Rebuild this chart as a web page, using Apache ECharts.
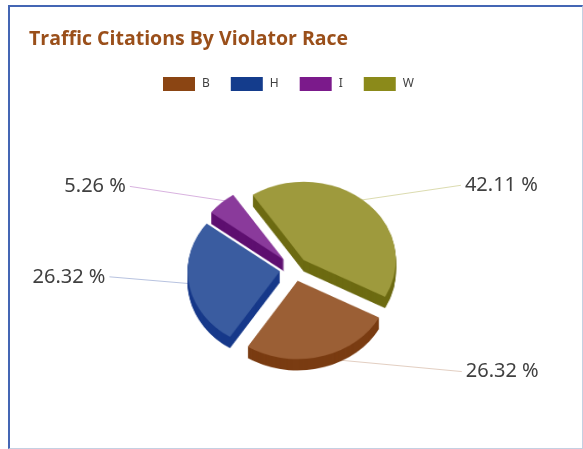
<!DOCTYPE html>
<html><head><meta charset="utf-8">
<script src="https://cdn.jsdelivr.net/npm/echarts@6/dist/echarts.min.js"></script>
<style>
html,body{margin:0;padding:0;background:#fff;overflow:hidden;}
.layer{width:583px;height:449px;position:absolute;left:0;top:0;}
#pie{transform-origin:294px 269px;transform:scale(1.025,0.87);pointer-events:none;}
#frame{position:absolute;left:8px;top:5px;width:572px;height:441px;border-left:2px solid #4466b4;border-top:2px solid #4466b4;border-right:1px solid #c5d0e2;border-bottom:1px solid #c5d0e2;pointer-events:none;}
</style></head><body>
<div id="main" class="layer"></div>
<div id="pie" class="layer"></div>
<div id="frame"></div>
<script>
const categories = ['B', 'H', 'I', 'W'];
const values = [26.32, 26.32, 5.26, 42.11];
const titleText = 'Traffic Citations By Violator Race';

const topColors = ['#9b5f35', '#3a5ca0', '#8a3a9b', '#9e9a3d'];
const sideColors = ['#7a3c12', '#17398a', '#5e0f70', '#6d6b12'];
const legendColors = ['#8b4513', '#143c8c', '#7b1a8b', '#8b8a1a'];
const lineColors = ['#e3cfc2', '#b8c3e0', '#d9b3e0', '#dcdcb0'];
const lineLen = { B: 14, H: 6, I: 21, W: 21 };
const lineLen2 = { B: 141, H: 88, I: 87, W: 91 };
const labelShift = { B: 0, H: -9, I: 0, W: 0 };

const CX = 294, CY = 269, R = 90, OFF = 14, DEPTH = 13, START = -28;

// Layer 1: title, legend and percentage labels
const main = echarts.init(document.getElementById('main'));
main.setOption({
  animation: false,
  backgroundColor: '#fff',
  title: {
    text: titleText, left: 24, top: 24,
    textStyle: { color: '#9a4f1a', fontSize: 19.5, fontWeight: 'bold', fontFamily: 'Open Sans' }
  },
  legend: {
    left: 158, top: 72, itemWidth: 32, itemHeight: 14, itemGap: 21, icon: 'rect',
    textStyle: { color: '#404040', fontSize: 12, fontFamily: 'Noto Sans', padding: [0, 0, 0, 2] },
    data: categories.map((c, i) => ({ name: c, itemStyle: { color: legendColors[i] } }))
  },
  series: [{
    type: 'pie', center: [CX, CY], radius: R - 12, startAngle: START, clockwise: true,
    selectedMode: 'multiple', selectedOffset: OFF,
    emphasis: { disabled: true },
    label: {
      show: true, position: 'outside', color: '#404040', fontSize: 20, fontFamily: 'Noto Sans',
      formatter: p => p.value.toFixed(2) + ' %', distanceToLabelLine: 4
    },
    labelLine: { show: true, lineStyle: { width: 1 } },
    labelLayout: function (params) {
      const name = categories[params.dataIndex];
      const pts = params.labelLinePoints.map(p => [p[0], p[1]]);
      const dy = labelShift[name];
      pts[1] = [pts[0][0], pts[0][1]];
      pts[2] = [pts[2][0], pts[2][1] + dy];
      return { dy: dy, labelLinePoints: pts };
    },
    data: categories.map((c, i) => ({
      name: c, value: values[i], selected: true,
      itemStyle: { color: 'rgba(0,0,0,0)' },
      labelLine: { length: lineLen[c], length2: lineLen2[c], lineStyle: { color: lineColors[i] } }
    }))
  }]
});

// Layer 2: the pie surfaces with depth (tilted via CSS scale)
const pie = echarts.init(document.getElementById('pie'));
const series = [];
for (let k = DEPTH; k >= 1; k--) {
  series.push({
    type: 'pie', silent: true, z: 1,
    center: [CX, CY + k], radius: R, startAngle: START, clockwise: true,
    selectedMode: 'multiple', selectedOffset: OFF,
    label: { show: false }, labelLine: { show: false },
    emphasis: { disabled: true },
    data: categories.map((c, i) => ({ name: c, value: values[i], selected: true, itemStyle: { color: sideColors[i] } }))
  });
}
series.push({
  type: 'pie', silent: true, z: 2,
  center: [CX, CY], radius: R, startAngle: START, clockwise: true,
  selectedMode: 'multiple', selectedOffset: OFF,
  emphasis: { disabled: true },
  label: { show: false }, labelLine: { show: false },
  data: categories.map((c, i) => ({ name: c, value: values[i], selected: true, itemStyle: { color: topColors[i] } }))
});
pie.setOption({ animation: false, backgroundColor: 'transparent', series: series });
</script>
</body></html>
